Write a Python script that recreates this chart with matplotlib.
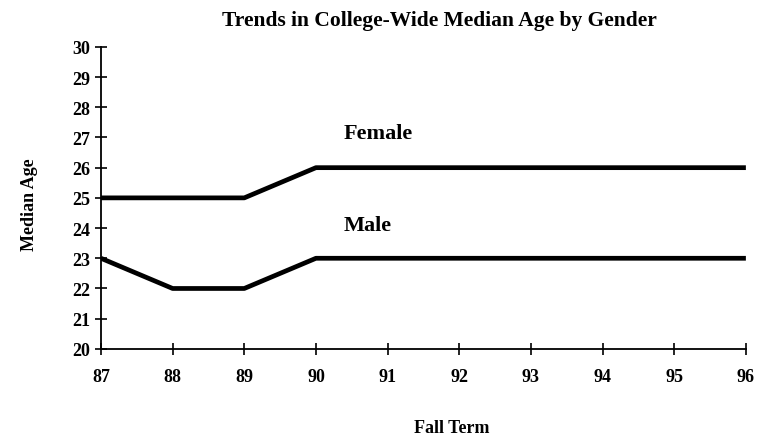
import matplotlib
matplotlib.use("Agg")
import matplotlib.pyplot as plt

years = [87, 88, 89, 90, 91, 92, 93, 94, 95, 96]
female = [25, 25, 25, 26, 26, 26, 26, 26, 26, 26]
male = [23, 22, 22, 23, 23, 23, 23, 23, 23, 23]
title = "Trends in College-Wide Median Age by Gender"

plt.rcParams['font.family'] = ['Liberation Serif', 'DejaVu Serif']
plt.rcParams['font.weight'] = 'bold'

fig = plt.figure(figsize=(7.65, 4.39), dpi=100)
ax = fig.add_axes([0.132, 0.203, 0.843, 0.688])

ax.plot(years, female, color='black', lw=3.4, solid_capstyle='butt')
ax.plot(years, male, color='black', lw=3.4, solid_capstyle='butt')

ax.text(90.38, 27.15, "Female", fontsize=16, fontweight='bold', ha='left', va='center')
ax.text(90.38, 24.1, "Male", fontsize=16, fontweight='bold', ha='left', va='center')

ax.set_xlim(87, 96)
ax.set_ylim(20, 30)
ax.set_xticks(years)
ax.set_yticks(range(20, 31))
ax.tick_params(direction='inout', length=8, width=1.2, labelsize=13)
for lab in ax.get_xticklabels() + ax.get_yticklabels():
    lab.set_fontweight('bold')
ax.tick_params(axis='x', pad=10)
ax.tick_params(axis='y', pad=4)
for s in ['top', 'right']:
    ax.spines[s].set_visible(False)
for s in ['left', 'bottom']:
    ax.spines[s].set_linewidth(1.3)

fig.text(0.575, 0.952, title, fontsize=15.5, fontweight='bold', ha='center', va='center')
fig.text(0.59, 0.025, "Fall Term", fontsize=13, fontweight='bold', ha='center', va='center')
fig.text(0.038, 0.533, "Median Age", fontsize=13, fontweight='bold', ha='center', va='center', rotation=90)

fig.savefig("out.png", dpi=100)
